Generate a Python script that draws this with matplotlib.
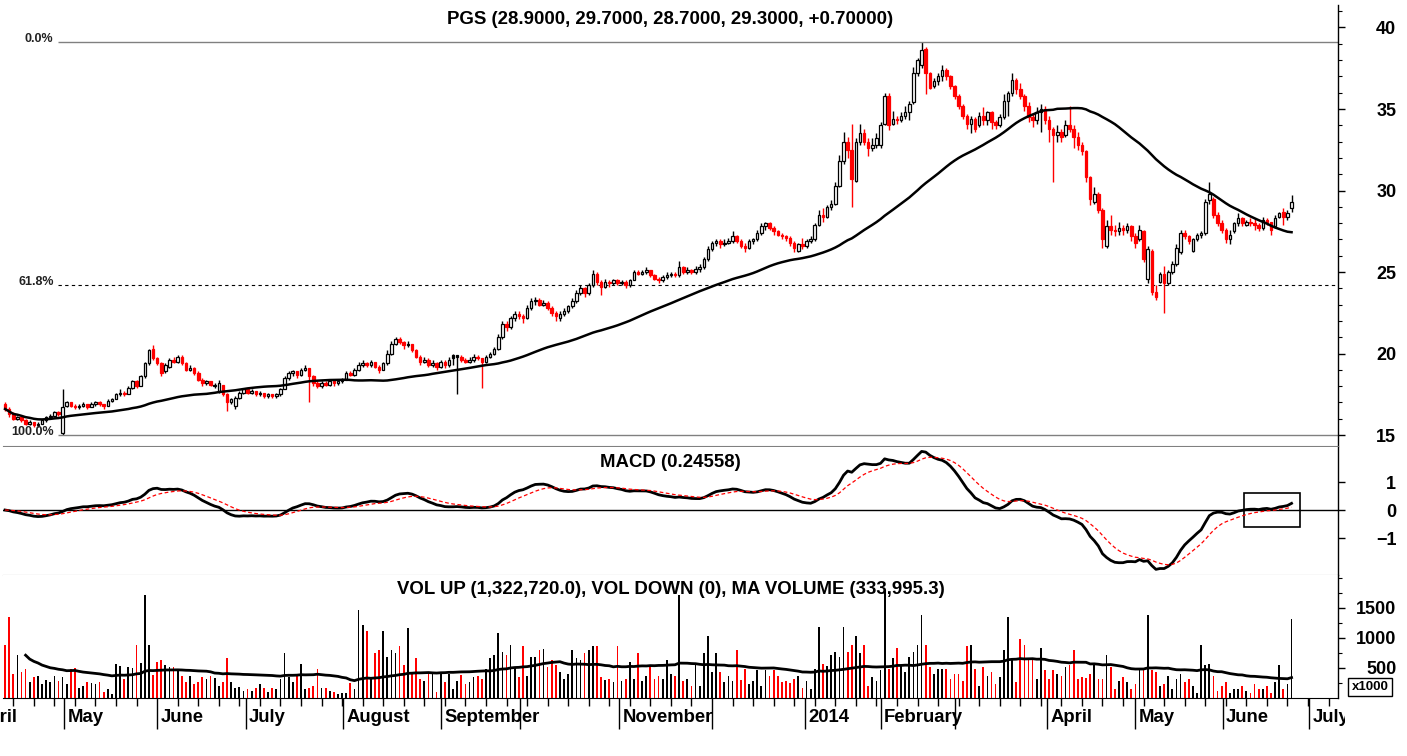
import matplotlib
matplotlib.use("Agg")
import matplotlib.pyplot as plt
import matplotlib.transforms as mtransforms
from matplotlib.patches import Rectangle
import numpy as np
import pandas as pd

# Daily bars, first trading day 11 April 2013 (weekday axis)
start_date = "2013-04-11"

opens = [
    16.9, 16.6, 16.3, 16.0, 16.1, 15.9, 15.7, 15.8, 15.6, 15.7,
    15.9, 16.1, 16.2, 16.4, 15.1, 16.8, 17.0, 16.8, 16.7, 16.8,
    16.9, 16.7, 16.9, 17.0, 16.9, 16.8, 17.1, 17.2, 17.5, 17.6,
    17.5, 17.9, 18.3, 18.0, 18.6, 19.4, 20.3, 19.7, 19.4, 18.9,
    19.2, 19.6, 19.5, 19.8, 19.4, 19.0, 19.1, 18.8, 18.4, 18.2,
    18.3, 18.0, 17.7, 18.1, 17.5, 17.0, 16.8, 17.3, 17.6, 17.8,
    17.6, 17.7, 17.5, 17.6, 17.4, 17.5, 17.4, 17.5, 17.8, 18.5,
    18.8, 18.9, 18.7, 19.0, 19.1, 18.6, 18.2, 18.0, 18.2, 18.1,
    18.3, 18.2, 18.3, 18.4, 18.8, 18.7, 19.0, 19.3, 19.4, 19.3,
    19.5, 19.2, 19.0, 19.4, 20.0, 20.6, 20.9, 20.7, 20.5, 20.6,
    20.2, 19.8, 19.5, 19.6, 19.3, 19.4, 19.2, 19.5, 19.3, 19.9,
    19.9, 19.8, 19.6, 19.5, 19.6, 19.8, 19.7, 19.5, 19.8, 20.0,
    20.3, 21.0, 21.8, 21.6, 22.2, 22.4, 22.3, 22.2, 22.8, 23.2,
    23.3, 23.0, 23.1, 22.8, 22.5, 22.2, 22.4, 22.6, 22.9, 23.2,
    23.7, 24.0, 23.7, 24.2, 24.9, 24.4, 24.1, 24.4, 24.3, 24.5,
    24.3, 24.4, 24.2, 24.5, 25.0, 24.9, 25.0, 25.1, 24.8, 24.6,
    24.5, 24.7, 24.8, 24.9, 24.8, 25.3, 25.0, 25.1, 25.0, 25.2,
    25.3, 25.8, 26.4, 26.8, 26.9, 26.7, 26.8, 26.9, 27.2, 26.9,
    26.6, 26.5, 26.9, 27.0, 27.4, 27.8, 28.0, 27.7, 27.5, 27.3,
    27.2, 27.1, 26.8, 26.3, 26.7, 26.6, 26.9, 27.0, 27.9, 28.5,
    28.4, 29.0, 29.2, 30.3, 31.8, 33.0, 32.5, 30.6, 33.0, 33.5,
    33.0, 32.6, 32.8, 32.8, 34.1, 35.8, 34.1, 34.4, 34.3, 34.6,
    34.8, 35.4, 37.2, 37.7, 38.7, 37.2, 36.4, 36.7, 37.0, 37.4,
    37.0, 36.4, 35.8, 35.2, 34.6, 34.1, 34.4, 34.0, 34.6, 34.3,
    34.8, 34.2, 34.0, 34.5, 35.5, 36.0, 36.8, 36.2, 35.8, 35.2,
    34.5, 34.3, 34.8, 35.0, 34.3, 33.8, 33.4, 33.6, 33.4, 34.0,
    33.8, 33.3, 32.8, 32.4, 30.8, 29.3, 29.8, 28.8, 26.6, 27.8,
    27.6, 27.5, 27.7, 27.6, 27.8, 27.2, 27.0, 27.5, 24.6, 26.3,
    23.8, 24.4, 24.9, 24.3, 25.0, 25.5, 26.2, 27.4, 27.2, 26.3,
    27.0, 27.3, 27.4, 29.4, 29.5, 28.5, 28.0, 27.6, 27.0, 27.5,
    28.0, 28.3, 27.9, 28.1, 28.0, 27.9, 27.7, 28.2, 28.1, 27.8,
    28.4, 28.7, 28.4, 28.9,
]

highs = [
    17.0, 16.7, 16.4, 16.2, 16.1, 16.0, 15.9, 15.8, 15.8, 16.0,
    16.2, 16.3, 16.5, 16.5, 17.8, 17.1, 17.0, 16.9, 16.9, 17.0,
    16.9, 17.0, 17.1, 17.1, 16.9, 17.2, 17.3, 17.6, 17.8, 17.7,
    18.0, 18.4, 18.4, 18.7, 19.5, 20.3, 20.5, 19.8, 19.5, 19.4,
    19.7, 19.8, 19.9, 19.9, 19.5, 19.3, 19.2, 18.9, 18.5, 18.4,
    18.3, 18.2, 18.4, 18.1, 17.6, 17.3, 17.4, 17.7, 17.9, 17.8,
    17.8, 17.7, 17.7, 17.6, 17.6, 17.5, 17.6, 17.9, 18.6, 18.9,
    19.0, 18.9, 19.1, 19.3, 19.1, 18.7, 18.3, 18.3, 18.3, 18.4,
    18.3, 18.4, 18.5, 18.9, 18.9, 19.1, 19.5, 19.6, 19.5, 19.6,
    19.5, 19.3, 19.5, 20.2, 20.8, 21.0, 21.0, 20.8, 20.8, 20.6,
    20.3, 19.9, 19.8, 19.7, 19.6, 19.5, 19.6, 19.6, 19.8, 20.0,
    19.9, 19.9, 19.7, 19.8, 20.0, 19.9, 19.7, 19.9, 20.1, 20.4,
    21.2, 22.0, 22.0, 22.3, 22.6, 22.6, 22.4, 23.0, 23.4, 23.5,
    23.4, 23.3, 23.2, 22.9, 22.6, 22.6, 22.8, 23.0, 23.4, 23.9,
    24.2, 24.1, 24.3, 25.1, 25.0, 24.5, 24.6, 24.5, 24.6, 24.6,
    24.5, 24.5, 24.6, 25.1, 25.1, 25.1, 25.3, 25.1, 24.9, 24.7,
    24.8, 25.0, 25.0, 25.0, 25.7, 25.4, 25.3, 25.2, 25.4, 25.5,
    25.9, 26.6, 26.9, 27.0, 27.0, 27.0, 27.1, 27.5, 27.3, 27.0,
    26.8, 27.0, 27.1, 27.6, 28.0, 28.1, 28.1, 27.8, 27.6, 27.4,
    27.3, 27.2, 26.9, 26.8, 27.1, 27.0, 27.2, 28.0, 28.8, 28.9,
    29.1, 29.4, 30.5, 32.2, 33.6, 33.3, 34.1, 33.2, 34.1, 33.8,
    33.2, 33.2, 33.5, 34.2, 36.0, 36.0, 34.9, 34.6, 34.8, 35.2,
    35.5, 37.6, 38.1, 39.1, 38.8, 37.3, 36.9, 37.2, 37.7, 37.5,
    37.1, 36.5, 35.9, 35.3, 34.7, 34.6, 34.5, 34.8, 35.1, 34.9,
    34.9, 34.3, 34.7, 35.9, 36.1, 37.2, 36.9, 36.6, 35.9, 35.4,
    34.7, 35.1, 35.3, 35.2, 34.6, 33.9, 34.0, 33.8, 34.3, 35.2,
    34.0, 33.6, 33.0, 32.5, 30.9, 30.2, 29.9, 28.9, 28.2, 28.5,
    27.9, 28.1, 27.9, 28.0, 27.9, 27.4, 27.9, 27.6, 26.6, 26.4,
    24.2, 25.0, 25.4, 25.1, 25.7, 26.7, 27.6, 27.6, 27.3, 27.1,
    27.4, 27.5, 29.5, 30.5, 29.6, 28.7, 28.2, 27.7, 27.6, 28.1,
    28.6, 28.4, 28.2, 28.3, 28.3, 28.0, 28.4, 28.3, 28.1, 28.5,
    28.7, 28.9, 28.8, 29.7,
]

lows = [
    16.5, 16.1, 15.9, 15.9, 15.8, 15.6, 15.6, 15.5, 15.5, 15.7,
    15.8, 16.0, 16.1, 16.2, 15.0, 16.7, 16.7, 16.6, 16.6, 16.7,
    16.6, 16.7, 16.8, 16.8, 16.6, 16.8, 17.0, 17.2, 17.4, 17.4,
    17.5, 17.8, 17.9, 18.0, 18.5, 19.3, 19.6, 19.3, 18.6, 18.8,
    19.1, 19.4, 19.4, 19.3, 18.9, 18.9, 18.7, 18.3, 18.0, 18.1,
    18.0, 17.9, 17.6, 17.4, 16.5, 16.9, 16.6, 17.2, 17.5, 17.5,
    17.5, 17.4, 17.4, 17.3, 17.3, 17.3, 17.3, 17.4, 17.8, 18.4,
    18.6, 18.5, 18.6, 18.9, 17.0, 18.0, 17.9, 17.9, 18.0, 18.0,
    18.0, 18.1, 18.2, 18.4, 18.6, 18.6, 18.9, 19.2, 19.2, 19.2,
    19.1, 18.8, 19.0, 19.3, 19.9, 20.5, 20.6, 20.3, 20.4, 20.1,
    19.7, 19.3, 19.4, 19.2, 19.2, 19.0, 19.1, 19.1, 19.2, 19.3,
    17.5, 19.5, 19.4, 19.4, 19.5, 19.6, 17.9, 19.4, 19.7, 19.9,
    20.2, 20.9, 21.4, 21.5, 22.0, 22.1, 21.9, 22.1, 22.7, 23.0,
    22.9, 22.9, 22.7, 22.3, 22.0, 22.0, 22.3, 22.5, 22.8, 23.1,
    23.6, 23.5, 23.6, 24.1, 24.2, 23.6, 24.0, 24.1, 24.2, 24.2,
    24.2, 24.0, 24.1, 24.5, 24.8, 24.8, 24.9, 24.7, 24.5, 24.3,
    24.4, 24.6, 24.7, 24.7, 24.7, 24.9, 24.9, 24.9, 24.9, 25.0,
    25.2, 25.7, 26.3, 26.6, 26.5, 26.6, 26.7, 26.8, 26.8, 26.5,
    26.2, 26.4, 26.7, 26.9, 27.3, 27.6, 27.6, 27.3, 27.2, 27.0,
    26.9, 26.6, 26.2, 26.2, 26.4, 26.5, 26.8, 26.9, 27.8, 28.1,
    28.3, 28.8, 29.1, 30.2, 31.6, 32.0, 29.0, 30.5, 32.8, 32.8,
    32.1, 32.4, 32.6, 32.6, 34.0, 33.7, 34.0, 34.1, 34.2, 34.4,
    34.3, 35.3, 37.0, 37.5, 35.9, 36.2, 36.3, 36.5, 36.7, 36.8,
    36.2, 35.6, 35.0, 34.4, 33.8, 33.5, 33.6, 33.9, 34.0, 34.0,
    33.8, 33.8, 33.9, 34.4, 34.6, 35.8, 35.9, 35.6, 34.9, 34.2,
    33.9, 34.1, 33.6, 34.1, 33.0, 30.5, 33.0, 33.0, 33.3, 33.6,
    32.6, 32.5, 32.2, 30.5, 29.1, 29.2, 28.6, 26.5, 26.5, 27.3,
    27.2, 27.3, 27.3, 27.4, 26.9, 26.5, 26.9, 25.6, 24.3, 23.6,
    23.3, 24.3, 22.5, 24.2, 24.9, 25.4, 26.1, 27.0, 26.7, 26.2,
    26.9, 27.1, 27.3, 29.2, 28.3, 27.8, 27.4, 26.8, 26.7, 27.4,
    27.8, 27.8, 27.8, 27.8, 27.6, 27.5, 27.6, 27.9, 27.3, 27.7,
    28.3, 27.9, 28.2, 28.7,
]

closes = [
    16.6, 16.3, 16.0, 16.1, 15.9, 15.7, 15.8, 15.6, 15.7, 15.9,
    16.1, 16.2, 16.4, 16.3, 16.7, 17.0, 16.8, 16.7, 16.8, 16.9,
    16.7, 16.9, 17.0, 16.9, 16.8, 17.1, 17.2, 17.5, 17.6, 17.5,
    17.9, 18.3, 18.0, 18.6, 19.4, 20.2, 19.7, 19.4, 18.8, 19.3,
    19.6, 19.5, 19.8, 19.4, 19.0, 19.1, 18.8, 18.4, 18.2, 18.3,
    18.1, 18.1, 18.2, 17.5, 17.0, 17.2, 17.3, 17.6, 17.8, 17.6,
    17.7, 17.5, 17.6, 17.4, 17.5, 17.4, 17.5, 17.8, 18.5, 18.8,
    18.9, 18.7, 19.0, 19.1, 18.6, 18.2, 18.0, 18.2, 18.1, 18.3,
    18.2, 18.3, 18.4, 18.8, 18.7, 19.0, 19.3, 19.4, 19.3, 19.5,
    19.2, 19.0, 19.4, 20.0, 20.6, 20.9, 20.7, 20.5, 20.6, 20.2,
    19.8, 19.5, 19.6, 19.3, 19.4, 19.2, 19.5, 19.3, 19.6, 19.7,
    19.8, 19.6, 19.5, 19.6, 19.8, 19.7, 19.5, 19.8, 20.0, 20.3,
    21.0, 21.8, 21.6, 22.2, 22.4, 22.3, 22.2, 22.8, 23.2, 23.3,
    23.0, 23.1, 22.8, 22.5, 22.3, 22.4, 22.6, 22.9, 23.2, 23.7,
    24.0, 23.7, 24.2, 24.9, 24.4, 24.1, 24.4, 24.3, 24.5, 24.3,
    24.4, 24.2, 24.5, 25.0, 24.9, 25.0, 25.1, 24.8, 24.6, 24.5,
    24.7, 24.8, 24.9, 24.8, 25.3, 25.0, 25.1, 25.0, 25.2, 25.3,
    25.8, 26.4, 26.8, 26.9, 26.7, 26.8, 26.9, 27.2, 26.9, 26.6,
    26.5, 26.9, 27.0, 27.4, 27.8, 28.0, 27.7, 27.5, 27.3, 27.2,
    27.1, 26.8, 26.5, 26.7, 26.6, 26.9, 27.0, 27.9, 28.5, 28.4,
    29.0, 29.2, 30.3, 31.8, 33.0, 32.5, 30.7, 33.0, 33.5, 33.0,
    32.6, 32.8, 33.2, 34.0, 35.8, 34.0, 34.4, 34.3, 34.6, 34.8,
    35.3, 37.2, 38.0, 38.6, 37.2, 36.3, 36.7, 37.0, 37.4, 37.0,
    36.4, 35.8, 35.2, 34.6, 34.1, 34.4, 33.8, 34.6, 34.3, 34.8,
    34.2, 34.0, 34.5, 35.5, 36.0, 36.8, 36.2, 35.8, 35.2, 34.5,
    34.3, 34.8, 35.0, 34.3, 33.8, 33.4, 33.6, 33.3, 34.0, 33.8,
    33.3, 32.8, 32.4, 30.8, 29.5, 29.8, 28.8, 27.0, 27.8, 27.6,
    27.5, 27.7, 27.6, 27.8, 27.2, 26.8, 27.6, 25.8, 26.4, 23.8,
    23.5, 24.9, 24.3, 25.0, 25.5, 26.5, 27.4, 27.2, 26.9, 27.0,
    27.3, 27.4, 29.3, 29.8, 28.5, 28.0, 27.6, 27.0, 27.3, 28.0,
    28.3, 28.0, 28.1, 28.0, 27.9, 27.7, 28.2, 28.1, 27.6, 28.3,
    28.6, 28.4, 28.6, 29.3,
]

# volume in thousands of shares
volumes = [
    890, 1350, 400, 720, 430, 490, 260, 345, 370, 230,
    300, 260, 370, 290, 345, 230, 490, 500, 170, 200,
    270, 250, 230, 260, 100, 155, 60, 575, 535, 315,
    520, 500, 890, 590, 1725, 890, 385, 605, 630, 545,
    520, 520, 460, 375, 260, 375, 230, 260, 345, 315,
    375, 330, 200, 260, 660, 260, 170, 190, 125, 155,
    125, 170, 230, 170, 100, 170, 145, 315, 750, 345,
    260, 375, 575, 150, 170, 200, 480, 170, 170, 115,
    100, 75, 85, 85, 250, 145, 1465, 1210, 1120, 315,
    750, 805, 1110, 690, 805, 750, 865, 545, 1165, 430,
    660, 315, 290, 430, 400, 100, 430, 260, 400, 145,
    290, 385, 230, 260, 345, 375, 315, 490, 660, 720,
    1090, 775, 720, 890, 520, 350, 865, 375, 690, 690,
    805, 820, 520, 630, 545, 430, 315, 400, 805, 660,
    630, 750, 805, 865, 865, 345, 300, 315, 260, 865,
    290, 315, 605, 315, 750, 290, 375, 545, 315, 375,
    315, 630, 400, 375, 1725, 290, 315, 200, 545,
    200, 750, 1035, 430, 750, 430, 260, 375, 290, 805,
    300, 490, 230, 290, 460, 200, 460, 375, 460, 375,
    260, 280, 250, 315, 375, 170, 290, 145, 480, 1180,
    575, 535, 720, 775, 690, 1190, 775, 890, 1035, 750,
    890, 200, 350, 290, 460, 1780, 490, 660, 835, 545,
    430, 690, 775, 890, 1380, 890, 520, 400, 490, 490,
    490, 315, 400, 400, 290, 865, 890, 490, 200, 520,
    375, 430, 230, 345, 805, 1350, 630, 260, 980, 890,
    660, 660, 315, 835, 460, 315, 460, 400, 375, 520,
    545, 805, 315, 345, 330, 400, 575, 315, 315, 720,
    520, 145, 290, 345, 260, 145, 230, 460, 460, 1380,
    460, 430, 200, 230, 375, 145, 315, 400, 260, 315,
    200, 85, 890, 545, 575, 375, 115, 200, 260, 85,
    150, 145, 200, 115, 85, 230, 145, 145, 200, 85,
    260, 545, 145, 230, 1322.72,
]

# bar index where each month starts, Apr 2013 .. Jul 2014 (as drawn on the chart)
month_index = [-8, 14.4, 37.0, 58.6, 82.2, 106.0, 125.3, 149.4, 172.0,
               194.7, 213.0, 231.0, 253.5, 275.0, 296.2, 317.3]
month_names = ["April", "May", "June", "July", "August", "September", "",
               "November", "", "2014", "February", "", "April", "May",
               "June", "July"]

price_title = "PGS (28.9000, 29.7000, 28.7000, 29.3000, +0.70000)"
macd_title = "MACD (0.24558)"
vol_title = "VOL UP (1,322,720.0), VOL DOWN (0), MA VOLUME (333,995.3)"

plt.rcParams["font.family"] = ["Liberation Sans", "DejaVu Sans"]

o = np.array(opens)
h = np.array(highs)
lo = np.array(lows)
c = np.array(closes)
v = np.array(volumes)
n = len(c)
x = np.arange(n)

prev = np.r_[o[0], c[:-1]]
col = np.where(c < prev, "#ff0000", "black")
face = np.where(c > o, "white", col)

cs = pd.Series(c)
ma = cs.rolling(50, min_periods=1).mean()
macd = cs.ewm(span=12, adjust=False).mean() - cs.ewm(span=26, adjust=False).mean()
signal = macd.ewm(span=9, adjust=False).mean()
vol_ma = pd.Series(v).rolling(50, min_periods=6).mean()

W, H = 1407, 756
fig = plt.figure(figsize=(W / 100, H / 100), dpi=100)
left = 3 / W
width = (1338 - 3) / W
ax_p = fig.add_axes([left, 1 - 446 / H, width, 441 / H])
ax_m = fig.add_axes([left, 1 - 575 / H, width, 128 / H], sharex=ax_p)
ax_v = fig.add_axes([left, 1 - 698 / H, width, 123 / H], sharex=ax_p)

xmin, xmax = -0.5, 324.3

# price panel
ax_p.vlines(x, lo, h, colors=col, linewidth=1.0, zorder=2)
body_h = np.maximum(np.abs(c - o), 0.04)
ax_p.bar(x, body_h, bottom=np.minimum(o, c), width=0.62, color=face,
         edgecolor=col, linewidth=0.9, zorder=3)
ax_p.plot(x, ma, color="black", linewidth=1.8, zorder=4)

hi, lw_ = h.max(), lo.min()
fib = hi - 0.618 * (hi - lw_)
ax_p.hlines([hi, lw_], 13, xmax, colors="#808080", linewidth=1.0)
ax_p.hlines(fib, 13, xmax, colors="black", linewidth=0.8, linestyles=(0, (3, 3)))
for lvl, lab in [(hi, "0.0%"), (fib, "61.8%"), (lw_, "100.0%")]:
    ax_p.text(11.8, lvl + 0.2, lab, ha="right", va="center", fontsize=9,
              fontweight="bold", color="#222222")
ax_p.set_ylim(14.33, 41.38)
ax_p.set_yticks([15, 20, 25, 30, 35, 40])
ax_p.set_yticks(np.arange(15, 42, 1), minor=True)

# MACD panel
ax_m.axhline(0, color="black", linewidth=1.0)
ax_m.plot(x, macd, color="black", linewidth=2.0)
ax_m.plot(x, signal, color="#ff0000", linewidth=0.9, linestyle=(0, (3, 2)))
ax_m.add_patch(Rectangle((301.5, -0.62), 13.5, 1.24, fill=False,
                         edgecolor="black", linewidth=1.2))
ax_m.set_ylim(-2.32, 2.25)
ax_m.set_yticks([-1, 0, 1])

# volume panel
ax_v.bar(x, v, width=0.42, color=col, linewidth=0)
ax_v.plot(x, vol_ma, color="black", linewidth=2.0)
ax_v.set_ylim(0, 2050)
ax_v.set_yticks([500, 1000, 1500])
ax_v.set_yticks(np.arange(250, 2050, 250), minor=True)

for ax in (ax_p, ax_m, ax_v):
    ax.yaxis.tick_right()
    ax.spines["left"].set_visible(False)
    ax.spines["top"].set_visible(False)
    ax.spines["right"].set_linewidth(1.0)
    ax.spines["bottom"].set_color("#808080")
    ax.tick_params(axis="y", which="major", length=5, width=1,
                   labelsize=13, pad=37)
    ax.tick_params(axis="y", which="minor", length=3, width=0.8)
    for t in ax.get_yticklabels():
        t.set_horizontalalignment("right")
        t.set_fontweight("bold")

ax_v.spines["bottom"].set_color("black")
ax_p.tick_params(axis="x", which="both", bottom=False, labelbottom=False)
ax_m.tick_params(axis="x", which="both", bottom=False, labelbottom=False)

# month ticks (long) and weekly ticks (short)
mondays = pd.date_range("2013-04-01", "2014-07-14", freq="W-MON")
week_pos = np.busday_count(start_date, mondays.values.astype("datetime64[D]"))
ax_v.set_xticks(month_index)
ax_v.set_xticks(week_pos, minor=True)
ax_v.tick_params(axis="x", which="major", length=22, width=1, labelbottom=False)
ax_v.tick_params(axis="x", which="minor", length=6, width=1)
ax_v.set_xlim(xmin, xmax)

clip = mtransforms.Bbox.from_extents(0, 0, 1345, H)
trans = mtransforms.blended_transform_factory(ax_v.transData, fig.transFigure)
for pos, name in zip(month_index, month_names):
    if name:
        t = ax_v.text(pos + 0.8, 1 - 718 / H, name, transform=trans, ha="left",
                      va="center", fontsize=13.3, fontweight="bold", clip_on=True)
        t.set_clip_box(clip)

# titles
cx = left + width / 2
fig.text(cx, 1 - 20 / H, price_title, ha="center", va="center", fontsize=13.4, fontweight="bold")
fig.text(cx, 1 - 462 / H, macd_title, ha="center", va="center", fontsize=13.4, fontweight="bold")
fig.text(cx, 1 - 590 / H, vol_title, ha="center", va="center", fontsize=13.4, fontweight="bold")
fig.text(1370 / W, 1 - 687 / H, "x1000", ha="center", va="center", fontsize=9.5,
         fontweight="bold",
         bbox=dict(boxstyle="square,pad=0.25", facecolor="white", edgecolor="black", linewidth=1))

fig.savefig("out.png", dpi=100, facecolor="white")
